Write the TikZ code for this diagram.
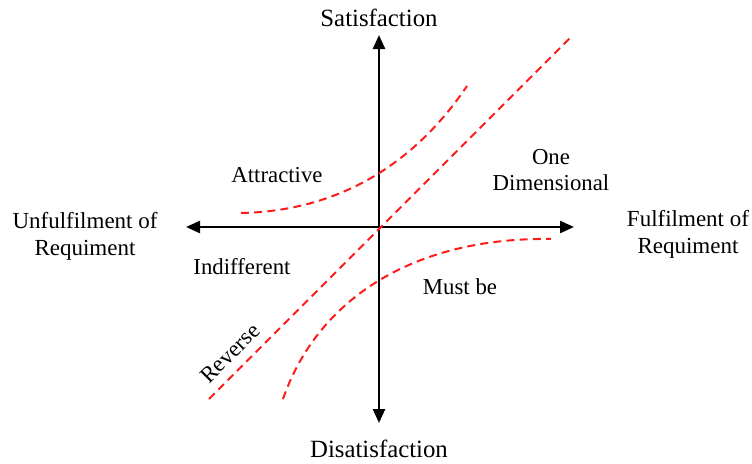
\documentclass[tikz,border=0pt]{standalone}
\usepackage{fontspec}
\setmainfont{Liberation Serif}
\usepackage{xcolor}
\usetikzlibrary{arrows.meta, positioning}
\definecolor{curvered}{HTML}{FF1A1A}

\begin{document}
\begin{tikzpicture}[
    x=0.5pt, y=0.5pt,
    axis/.style={{Triangle[length=7pt, width=6pt]}-{Triangle[length=7pt, width=6pt]}, line width=1.2pt, color=black},
    kano/.style={dashed, dash pattern=on 4pt off 2.6pt, line width=1pt, color=curvered},
    axislbl/.style={font=\fontsize{12.4}{13.5}\selectfont, align=center, inner sep=1pt},
    sidelbl/.style={font=\fontsize{11.5}{13.5}\selectfont, align=center, inner sep=1pt},
    zonelbl/.style={font=\fontsize{11.4}{13}\selectfont, align=center, inner sep=1pt},
]
\useasboundingbox (0,0) rectangle (752,463);

% Axes
\coordinate (o) at (379, 236);
\coordinate (top) at (379, 428);
\coordinate (bot) at (379, 40);
\coordinate (lft) at (186, 236);
\coordinate (rgt) at (574, 236);
\draw[axis] (bot) -- (top);
\draw[axis] (lft) -- (rgt);

% Axis labels
\node[axislbl] (sat) at (379, 445) {Satisfaction};
\node[axislbl] (dis) at (379, 14) {Disatisfaction};
\node[sidelbl] (unf) at (85, 227) {Unfulfilment of\\Requiment};
\node[sidelbl] (ful) at (688, 229) {Fulfilment of\\Requiment};

% Curves
\draw[kano] (209, 64) -- (572, 427);
\draw[kano] (241, 250) .. controls (340, 252) and (415, 300) .. (467, 377);
\draw[kano] (283, 64) .. controls (318, 165) and (415, 226) .. (551, 224);

% Zone labels
\node[zonelbl] (attr) at (277, 288) {Attractive};
\node[zonelbl] (onedim) at (551, 293) {One\\Dimensional};
\node[zonelbl] (indif) at (242, 196) {Indifferent};
\node[zonelbl] (must) at (460, 176) {Must be};
\node[zonelbl, rotate=45] (rev) at (230, 110) {Reverse};

\end{tikzpicture}
\end{document}
